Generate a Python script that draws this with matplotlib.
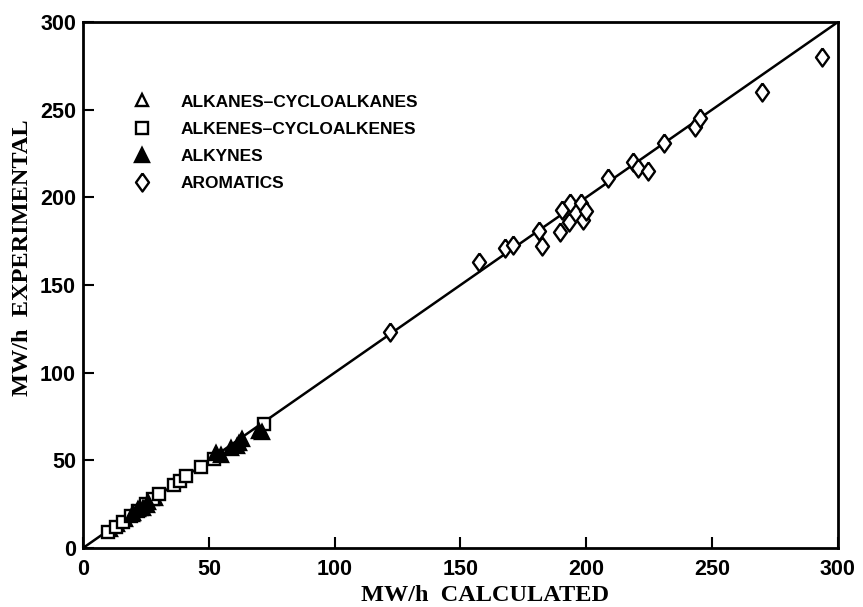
import matplotlib
matplotlib.use("Agg")
import matplotlib.pyplot as plt

# Alkanes-cycloalkanes (open triangles)
alkane_calc = [11, 14, 17, 20, 23, 26, 29]
alkane_exp = [10, 13, 16, 19, 22, 24, 28]

# Alkenes-cycloalkenes (open squares)
alkene_calc = [10, 13, 16, 19, 22, 25, 28, 30, 36, 38.5, 41, 47, 52, 72]
alkene_exp = [9, 12, 15, 18, 21, 25, 28, 31, 36, 38, 41, 46, 51, 71]

# Alkynes (filled triangles)
alkyne_calc = [20, 22, 24, 26, 53, 55, 59, 61, 62, 63, 70, 71]
alkyne_exp = [20, 22, 23, 26, 54, 53, 57, 58, 60, 62, 67, 66]

# Aromatics (open diamonds)
arom_calc = [122, 157.5, 167.5, 171, 181, 182.5, 189.5, 190.5, 193.5, 193,
             198, 198.5, 200, 208.5, 218.5, 220.5, 224.5, 231, 243, 245,
             270, 293.5]
arom_exp = [123, 163, 171, 173, 181, 172, 180, 193, 197, 186,
            197, 187, 192, 211, 220, 217, 215, 231, 240, 245,
            260, 280]

# tall diamond like in the original figure
diamond = [(0, 1), (0.72, 0), (0, -1), (-0.72, 0), (0, 1)]

fig = plt.figure(figsize=(8.63, 6.07), dpi=100)
ax = fig.add_axes([0.0962, 0.0972, 0.8748, 0.8666])

ax.plot([0, 300], [0, 300], color="black", lw=1.8, zorder=1)

mk = dict(linestyle="none", color="black", markeredgewidth=1.7, zorder=3)
ax.plot(alkane_calc, alkane_exp, marker="^", markersize=9,
        markerfacecolor="white", label="ALKANES\u2013CYCLOALKANES", **mk)
ax.plot(alkene_calc, alkene_exp, marker="s", markersize=8,
        markerfacecolor="white", label="ALKENES\u2013CYCLOALKENES", **mk)
ax.plot(alkyne_calc, alkyne_exp, marker="^", markersize=9.5,
        markerfacecolor="black", label="ALKYNES", **mk)
ax.plot(arom_calc, arom_exp, marker=diamond, markersize=13,
        markerfacecolor="white", label="AROMATICS", **mk)

ax.set_xlim(0, 300)
ax.set_ylim(0, 300)
ax.set_xticks(range(0, 301, 50))
ax.set_yticks(range(0, 301, 50))
ax.tick_params(direction="in", length=8, width=1.5, top=False, right=False)
ax.tick_params(axis="x", pad=8)
ax.tick_params(axis="y", pad=5)
for lab in ax.get_xticklabels() + ax.get_yticklabels():
    lab.set_fontweight("bold")
    lab.set_family("Liberation Sans")
    lab.set_fontsize(15.5)
for sp in ax.spines.values():
    sp.set_linewidth(2)

ax.set_xlabel("MW/h  CALCULATED", fontsize=17.5, fontweight="bold",
              family="Liberation Serif")
ax.set_ylabel("MW/h  EXPERIMENTAL", fontsize=17.5, fontweight="bold",
              family="Liberation Serif")
ax.xaxis.set_label_coords(0.532, -0.07)
ax.yaxis.set_label_coords(-0.066, 0.551)

leg = ax.legend(loc="upper left", bbox_to_anchor=(0.04, 0.892), frameon=False,
                prop={"family": "Liberation Sans", "size": 12.5,
                      "weight": "bold"},
                handletextpad=1.5, labelspacing=0.7, handlelength=1.5,
                numpoints=1)

fig.savefig("out.png", dpi=100)
